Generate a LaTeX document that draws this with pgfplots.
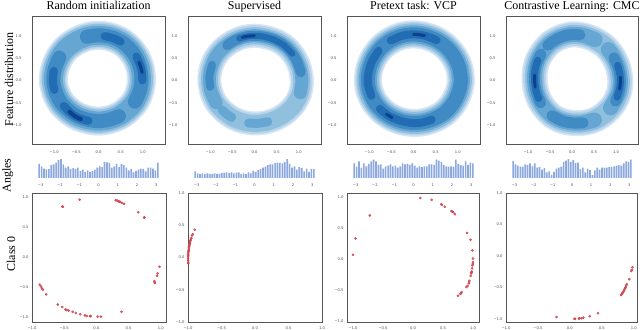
\documentclass[border=0pt]{standalone}
\usepackage{fontspec}
\setmainfont{Liberation Serif}
\newfontfamily\tickfont{DejaVu Sans}
\usepackage{pgfplots}
\pgfplotsset{compat=1.18}

% seaborn Blues levels
\definecolor{c1}{RGB}{214,230,245}
\definecolor{c2}{RGB}{185,212,236}
\definecolor{c3}{RGB}{145,192,223}
\definecolor{c4}{RGB}{102,166,211}
\definecolor{c5}{RGB}{64,139,195}
\definecolor{c6}{RGB}{33,108,178}
\definecolor{c7}{RGB}{12,66,140}
\definecolor{histblue}{RGB}{140,168,222}
\definecolor{ptred}{RGB}{208,72,82}
\definecolor{boxgray}{RGB}{85,85,85}

\pgfplotsset{
  base/.style={scale only axis, axis line style={draw=boxgray, line width=0.9bp},
    tick style={draw=none},
    ticklabel style={font=\tickfont\fontsize{3.7}{4}\selectfont, text=black!70},
    every axis title/.style={at={(0.5,1)}, anchor=base, yshift=6.7bp, font=\fontsize{12}{14}\selectfont}},
  kde/.style={base, width=133bp, height=128bp,
    xmin=-1.5, xmax=1.5, ymin=-1.42, ymax=1.44,
    xtick={-1,-0.5,0,0.5,1}, ytick={-1,-0.5,0,0.5,1},
    xticklabels={−1.0,−0.5,0.0,0.5,1.0}, yticklabels={−1.0,−0.5,0.0,0.5,1.0},
    xticklabel style={yshift=-3.5bp}, yticklabel style={xshift=-7bp}},
  hist/.style={base, width=133bp, height=20bp, axis line style={draw=none},
    xmin=-3.45, xmax=3.45, ymin=0, ymax=1.06,
    xtick={-3,-2,-1,0,1,2,3}, xticklabels={−3,−2,−1,0,1,2,3}, ytick=\empty,
    xticklabel style={yshift=-2.5bp}},
  scat/.style={base, height=129bp,
    xtick={-1,-0.5,0,0.5,1}, ytick={-1,-0.5,0,0.5,1},
    xticklabels={−1.0,−0.5,0.0,0.5,1.0}, yticklabels={−1.0,−0.5,0.0,0.5,1.0},
    xticklabel style={yshift=-1bp}},
  ring/.style={data cs=polar, smooth, no markers, line cap=round, line join=round},
  bars/.style={ybar, bar width=0.085, fill=histblue, draw=none},
  pts/.style={only marks, color=ptred, mark=*, mark size=1.1bp,
    mark options={fill=ptred, draw=none, fill opacity=0.8}},
}

% ring centre lines: angle (deg), radius
\pgfplotstableread{
a r
0 0.97
15 0.98
30 0.99
45 1.00
60 1.01
75 1.01
90 1.01
105 1.01
120 1.01
135 1.02
150 1.02
165 1.02
180 1.02
195 1.00
210 0.98
225 0.95
240 0.93
255 0.91
270 0.91
285 0.91
300 0.92
315 0.93
330 0.95
345 0.96
360 0.97
375 0.98
}\ringA
\pgfplotstableread{
a r
0 1.07
15 1.06
30 1.05
45 1.04
60 1.02
75 1.00
90 1.00
105 1.00
120 1.00
135 1.01
150 1.02
165 1.02
180 1.02
195 1.01
210 1.00
225 0.98
240 0.97
255 0.96
270 0.96
285 0.97
300 0.99
315 1.02
330 1.05
345 1.07
360 1.07
375 1.06
}\ringB
\pgfplotstableread{
a r
0 1.07
15 1.07
30 1.06
45 1.05
60 1.04
75 1.03
90 1.03
105 1.03
120 1.03
135 1.03
150 1.03
165 1.03
180 1.03
195 1.02
210 1.00
225 0.98
240 0.96
255 0.95
270 0.95
285 0.96
300 0.98
315 1.01
330 1.03
345 1.05
360 1.07
375 1.07
}\ringC
\pgfplotstableread{
a r
0 1.10
15 1.09
30 1.08
45 1.07
60 1.05
75 1.04
90 1.03
105 1.00
120 0.97
135 0.93
150 0.90
165 0.87
180 0.85
195 0.85
210 0.86
225 0.88
240 0.91
255 0.93
270 0.95
285 0.98
300 1.02
315 1.05
330 1.08
345 1.10
360 1.10
375 1.09
}\ringD

% angle histograms (relative heights)
\pgfplotstableread{
x h1 h2 h3 h4
-3.079 0.75 0.35 0.78 0.90
-2.953 0.62 0.25 0.60 0.72
-2.827 0.50 0.22 0.88 0.65
-2.702 0.46 0.25 0.55 0.60
-2.576 0.47 0.22 0.78 0.60
-2.450 0.70 0.25 0.62 0.72
-2.325 0.72 0.22 0.75 0.70
-2.199 0.82 0.20 0.88 0.78
-2.073 0.95 0.25 0.98 0.62
-1.948 1.00 0.22 0.88 0.78
-1.822 0.72 0.20 0.70 0.55
-1.696 0.55 0.27 0.72 0.58
-1.571 0.62 0.28 0.50 0.45
-1.445 0.48 0.30 0.62 0.52
-1.319 0.52 0.27 0.65 0.30
-1.194 0.48 0.30 0.72 0.35
-1.068 0.55 0.25 0.62 0.18
-0.942 0.38 0.28 0.65 0.32
-0.817 0.45 0.30 0.55 0.50
-0.691 0.32 0.22 0.62 0.55
-0.565 0.40 0.25 0.78 0.60
-0.440 0.33 0.20 0.72 0.85
-0.314 0.36 0.30 0.75 0.92
-0.188 0.45 0.25 0.68 1.00
-0.063 0.55 0.38 0.78 0.85
0.063 0.62 0.32 0.65 0.95
0.188 0.58 0.42 0.55 0.80
0.314 0.85 0.48 0.62 0.82
0.440 0.83 0.55 0.58 0.48
0.565 0.80 0.60 0.62 0.55
0.691 0.55 0.68 0.62 0.30
0.817 0.62 0.72 0.72 0.50
0.942 0.75 0.72 0.72 0.42
1.068 0.58 0.80 0.70 0.15
1.194 0.75 0.82 0.98 0.40
1.319 0.68 0.80 0.92 0.55
1.445 0.55 0.78 0.85 0.45
1.571 0.40 0.85 0.70 0.55
1.696 0.48 1.00 0.62 0.55
1.822 0.30 0.75 0.60 0.55
1.948 0.38 0.55 0.62 0.58
2.073 0.45 0.62 0.60 0.58
2.199 0.50 0.45 0.98 0.62
2.325 0.48 0.58 0.75 0.65
2.450 0.35 0.52 0.68 0.68
2.576 0.55 0.35 0.65 0.65
2.702 0.55 0.50 0.88 0.78
2.827 0.50 0.32 0.70 0.88
2.953 0.40 0.48 0.82 0.85
3.079 0.82 0.48 0.78 0.98
}\histdata

\begin{document}
\begin{tikzpicture}
\useasboundingbox (0,0) rectangle (640bp,330bp);

% ---------- row 1: feature distribution ----------
\begin{axis}[kde, at={(32bp,186bp)}, anchor=south west, title={Random initialization}]
\addplot[ring, c1, line width=29bp] table[x=a,y=r] {\ringA};
\addplot[ring, c2, line width=26bp] table[x=a,y=r] {\ringA};
\addplot[ring, c3, line width=23bp] table[x=a,y=r] {\ringA};
\addplot[ring, c4, line width=19bp] table[x=a,y=r] {\ringA};
\addplot[ring, c5, line width=14bp] coordinates {(330,0.95)(345,0.96)(360,0.97)(375,0.98)(390,0.99)(405,1.0)(420,1.01)(435,1.01)(450,1.01)(465,1.01)};
\addplot[ring, c5, line width=14bp] coordinates {(150,1.02)(165,1.02)(180,1.02)(195,1.0)(210,0.98)(225,0.95)(240,0.93)(255,0.91)(270,0.91)(285,0.91)(300,0.92)};
\addplot[ring, c6, line width=8bp] coordinates {(60,1.0)(70,1.0)(82,1.0)};
\addplot[ring, c6, line width=8bp] coordinates {(0,0.99)(15,1.0)(32,1.01)};
\addplot[ring, c6, line width=8bp] coordinates {(168,1.03)(180,1.03)(192,1.02)};
\addplot[ring, c6, line width=8bp] coordinates {(216,0.97)(230,0.96)(242,0.95)(256,0.93)};
\addplot[ring, c7, line width=4bp] coordinates {(227,0.96)(237,0.96)(245,0.95)};
\addplot[ring, c7, line width=3bp] coordinates {(10,1.0)(18,1.0)(24,1.0)};
\end{axis}

\begin{axis}[kde, at={(188bp,186bp)}, anchor=south west, title={Supervised}]
\addplot[ring, c1, line width=24bp] table[x=a,y=r] {\ringB};
\addplot[ring, c2, line width=21bp] table[x=a,y=r] {\ringB};
\addplot[ring, c3, line width=17bp] table[x=a,y=r] {\ringB};
\addplot[ring, c4, line width=13bp] coordinates {(345,1.07)(360,1.07)(375,1.06)(390,1.05)(405,1.04)(420,1.02)(435,1.0)(450,1.0)(465,1.0)(480,1.0)(495,1.01)(510,1.02)(525,1.02)(540,1.02)(555,1.01)(570,1.0)};
\addplot[ring, c4, line width=9bp] coordinates {(222,0.985)(230,0.98)(238,0.975)};
\addplot[ring, c4, line width=9bp] coordinates {(262,0.96)(275,0.96)(288,0.97)};
\addplot[ring, c5, line width=10bp] coordinates {(10,1.06)(25,1.05)(40,1.04)(55,1.03)(70,1.01)(85,1.0)(100,1.0)(115,1.0)(128,1.0)};
\addplot[ring, c5, line width=8bp] coordinates {(160,1.02)(175,1.02)(188,1.01)};
\addplot[ring, c6, line width=6bp] coordinates {(35,1.04)(50,1.03)(65,1.01)(80,1.0)(95,1.0)(110,1.0)};
\addplot[ring, c7, line width=3bp] coordinates {(90,1.0)(99,1.0)(106,1.0)};
\end{axis}

\begin{axis}[kde, at={(347bp,186bp)}, anchor=south west, title={Pretext task: VCP}]
\addplot[ring, c1, line width=28bp] table[x=a,y=r] {\ringC};
\addplot[ring, c2, line width=25bp] table[x=a,y=r] {\ringC};
\addplot[ring, c3, line width=22bp] table[x=a,y=r] {\ringC};
\addplot[ring, c4, line width=18bp] table[x=a,y=r] {\ringC};
\addplot[ring, c5, line width=14bp] table[x=a,y=r] {\ringC};
\addplot[ring, c6, line width=8bp] coordinates {(60,1.04)(75,1.03)(90,1.03)(105,1.03)(120,1.03)};
\addplot[ring, c6, line width=8bp] coordinates {(140,1.03)(155,1.03)(170,1.03)(185,1.03)(200,1.01)};
\addplot[ring, c6, line width=8bp] coordinates {(220,0.99)(235,0.97)(250,0.95)(265,0.95)(280,0.96)(295,0.97)};
\addplot[ring, c7, line width=3bp] coordinates {(76,1.03)(83,1.03)(90,1.03)};
\addplot[ring, c7, line width=3bp] coordinates {(231,0.97)(240,0.96)};
\end{axis}

\begin{axis}[kde, width=132bp, at={(506bp,186bp)}, anchor=south west, title={Contrastive Learning: CMC}]
\addplot[ring, c1, line width=26bp] table[x=a,y=r] {\ringD};
\addplot[ring, c2, line width=23bp] table[x=a,y=r] {\ringD};
\addplot[ring, c3, line width=19bp] table[x=a,y=r] {\ringD};
\addplot[ring, c4, line width=15bp] coordinates {(60,1.05)(75,1.04)(90,1.03)(105,1.0)(120,0.97)(135,0.93)(150,0.9)(165,0.87)(180,0.85)(195,0.85)(210,0.86)(225,0.88)(240,0.91)(255,0.93)(270,0.95)(285,0.98)(300,1.02)};
\addplot[ring, c4, line width=15bp] coordinates {(325,1.07)(345,1.10)(360,1.10)(375,1.09)(390,1.08)(400,1.075)};
\addplot[ring, c5, line width=11bp] coordinates {(80,1.035)(95,1.02)(110,0.99)(125,0.96)};
\addplot[ring, c5, line width=11bp] coordinates {(140,0.92)(155,0.89)(170,0.86)(185,0.85)(200,0.85)(215,0.87)};
\addplot[ring, c5, line width=11bp] coordinates {(240,0.91)(255,0.93)(270,0.95)(285,0.98)};
\addplot[ring, c5, line width=11bp] coordinates {(335,1.09)(345,1.10)(360,1.10)(375,1.09)(388,1.08)};
\addplot[ring, c6, line width=7bp] coordinates {(150,0.9)(165,0.87)(180,0.85)(195,0.85)(208,0.86)};
\addplot[ring, c6, line width=7bp] coordinates {(340,1.09)(352,1.10)(365,1.10)(378,1.09)};
\addplot[ring, c7, line width=3bp] coordinates {(172,0.86)(182,0.85)(190,0.85)};
\addplot[ring, c7, line width=3bp] coordinates {(350,1.1)(358,1.1)(364,1.1)};
\end{axis}

% ---------- row 2: angle histograms ----------
\begin{axis}[hist, at={(32bp,152bp)}, anchor=south west]
\addplot[bars] table[x=x,y=h1] {\histdata};
\end{axis}
\begin{axis}[hist, at={(188bp,152bp)}, anchor=south west]
\addplot[bars] table[x=x,y=h2] {\histdata};
\end{axis}
\begin{axis}[hist, at={(347bp,152bp)}, anchor=south west]
\addplot[bars] table[x=x,y=h3] {\histdata};
\end{axis}
\begin{axis}[hist, width=132bp, at={(506bp,152bp)}, anchor=south west]
\addplot[bars] table[x=x,y=h4] {\histdata};
\end{axis}

% ---------- row 3: class 0 ----------
\begin{axis}[scat, width=134bp, at={(32bp,8bp)}, anchor=south west,
  xmin=-1.0, xmax=1.08, ymin=-1.08, ymax=1.07]
\addplot[pts] coordinates {
(-0.52,0.84)(-0.53,0.845)(-0.26,0.96)(0.30,0.95)(0.32,0.945)(0.34,0.93)(0.36,0.925)(0.37,0.92)(0.40,0.905)(0.43,0.89)
(0.65,0.75)(0.74,0.66)(0.745,0.665)(0.98,-0.16)(0.95,-0.27)(0.94,-0.31)(0.90,-0.40)(0.905,-0.42)(0.91,-0.43)
(0.39,-0.91)(-0.88,-0.46)(-0.86,-0.49)(-0.845,-0.52)(-0.83,-0.54)(-0.78,-0.62)(-0.60,-0.79)(-0.53,-0.83)
(-0.48,-0.87)(-0.46,-0.88)(-0.43,-0.89)(-0.37,-0.91)(-0.32,-0.93)(-0.25,-0.95)(-0.18,-0.97)(-0.15,-0.98)
(-0.09,-0.98)(-0.10,-0.985)(0.02,-0.99)(0.07,-0.99)};
\end{axis}

\begin{axis}[scat, width=134bp, at={(188bp,8bp)}, anchor=south west,
  xmin=-1, xmax=1, ymin=-1, ymax=1]
\addplot[pts] coordinates {
(-0.90,0.43)(-0.93,0.36)(-0.94,0.34)(-0.95,0.30)(-0.955,0.29)(-0.96,0.27)(-0.965,0.26)(-0.97,0.24)
(-0.972,0.23)(-0.975,0.21)(-0.978,0.20)(-0.98,0.18)(-0.984,0.17)(-0.986,0.15)(-0.988,0.13)(-0.99,0.11)
(-0.993,0.09)(-0.995,0.07)(-0.997,0.05)(-0.998,0.03)(-0.999,0.01)(-0.999,-0.02)(-0.998,-0.05)(-0.997,-0.08)(-0.996,-0.09)};
\end{axis}

\begin{axis}[scat, width=132bp, at={(347bp,8bp)}, anchor=south west,
  xmin=-1.1, xmax=1.1, ymin=-1.01, ymax=1.06]
\addplot[pts] coordinates {
(-1.0,0.07)(-0.96,0.33)(-0.72,0.70)(0.12,0.98)(0.31,0.95)(0.47,0.88)(0.48,0.87)(0.53,0.84)
(0.64,0.77)(0.66,0.76)(0.67,0.75)(0.70,0.72)(0.90,0.42)(0.96,0.31)(0.99,0.14)(1.0,0.01)
(1.0,-0.05)(0.995,-0.08)(0.99,-0.10)(0.985,-0.15)(0.98,-0.20)(0.975,-0.22)(0.97,-0.23)(0.96,-0.27)
(0.94,-0.35)(0.935,-0.37)(0.93,-0.39)(0.91,-0.43)(0.89,-0.45)(0.81,-0.53)(0.80,-0.55)(0.79,-0.56)(0.75,-0.59)};
\end{axis}

\begin{axis}[scat, width=131bp, at={(506bp,8bp)}, anchor=south west,
  xmin=-1.0, xmax=1.05, ymin=-1.05, ymax=1.0]
\addplot[pts] coordinates {
(0.98,-0.18)(0.97,-0.22)(0.96,-0.24)(0.93,-0.37)(0.89,-0.45)(0.88,-0.47)(0.87,-0.50)(0.865,-0.51)
(0.86,-0.52)(0.85,-0.54)(0.84,-0.56)(0.83,-0.58)(0.82,-0.59)(0.81,-0.61)(0.80,-0.62)
(0.44,-0.91)(0.31,-0.96)(0.21,-0.98)(0.18,-0.99)(0.15,-0.99)(0.14,-0.995)(0.08,-1.0)(0.07,-1.0)(-0.21,-0.97)};
\end{axis}

% ---------- row labels ----------
\node[rotate=90, anchor=base, font=\fontsize{12}{14}\selectfont] at (13bp,250.5bp) {Feature distribution};
\node[rotate=90, anchor=base, font=\fontsize{12}{14}\selectfont] at (10.5bp,154.5bp) {Angles};
\node[rotate=90, anchor=base, font=\fontsize{12}{14}\selectfont] at (15bp,76bp) {Class 0};
\end{tikzpicture}
\end{document}
